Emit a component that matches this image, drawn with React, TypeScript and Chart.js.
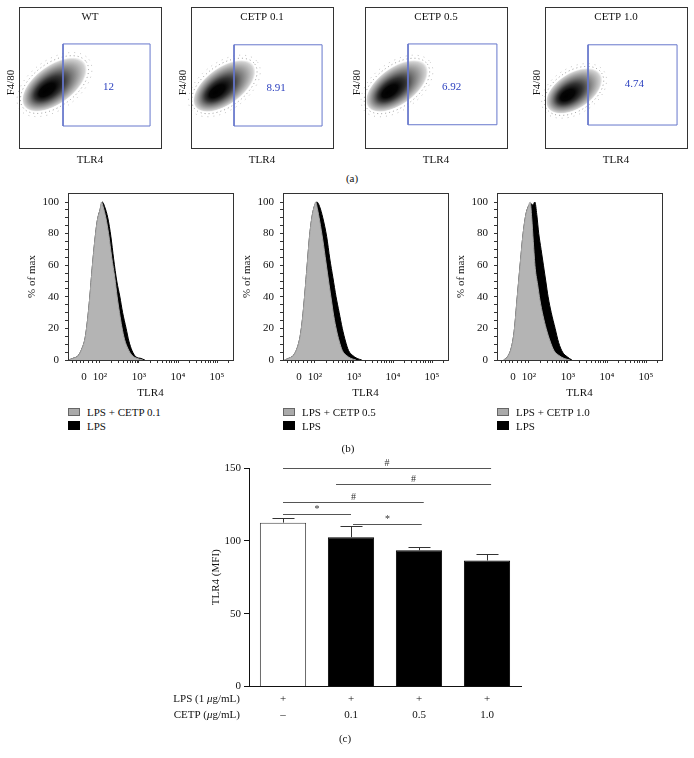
import React, { useEffect, useRef } from "react";
import { Chart, registerables } from "chart.js";

Chart.register(...registerables);

const SERIF = '"Liberation Serif", "Times New Roman", Times, serif';

// ---------------- (a) F4/80 vs TLR4 dot plots ----------------
const flowTitles = ["WT", "CETP 0.1", "CETP 0.5", "CETP 1.0"];
const gatePercents = ["12", "8.91", "6.92", "4.74"];
const gateXMin = [31, 30.3, 30.3, 30.3];
const gateXMax = [92.3, 92.3, 92.9, 93];
const gateYMin = [15.6, 15.6, 16.5, 16.3];
const gateYMax = [73.8, 73.2, 73.8, 73.2];
const percentX = [63, 60, 61, 63];
const percentY = [43, 42.5, 43.3, 45];
const blobX = [25, 23.5, 22.5, 20.5];
const blobY = [45, 44, 44, 40.5];
const blobMajor = [25, 24, 24, 21];
const blobMinor = [13, 12.5, 12.5, 12];
const blobTilt = [36, 36, 36, 33];

// ---------------- (b) TLR4 histograms ----------------
const histGrayLabels = ["LPS + CETP 0.1", "LPS + CETP 0.5", "LPS + CETP 1.0"];
const histBlackLabel = "LPS";
const histMajorTicks = [1.59, 2, 3, 4, 5];
const histMajorLabels = ["0", "10²", "10³", "10⁴", "10⁵"];
const histPctTicks = [0, 20, 40, 60, 80, 100];

const gray1U = [1.2, 1.3, 1.45, 1.55, 1.62, 1.68, 1.74, 1.8, 1.87, 1.93, 2.0, 2.04, 2.08, 2.15, 2.22, 2.3, 2.38, 2.44, 2.5, 2.56, 2.63, 2.72, 2.82, 2.95, 3.1];
const gray1P = [0, 1, 3, 8, 14, 25, 40, 58, 76, 88, 95, 100, 97, 90, 80, 65, 52, 40, 30, 21, 13, 7, 3, 1, 0];
const black1U = [1.2, 1.3, 1.45, 1.55, 1.62, 1.68, 1.74, 1.8, 1.87, 1.93, 2.0, 2.06, 2.12, 2.2, 2.28, 2.35, 2.43, 2.51, 2.58, 2.67, 2.74, 2.82, 2.92, 3.05, 3.15];
const black1P = [0, 1, 3, 8, 14, 25, 40, 58, 76, 88, 95, 100, 97, 90, 78, 64, 50, 40, 30, 20, 12, 6, 2, 1, 0];

const gray2U = [1.22, 1.32, 1.45, 1.55, 1.62, 1.68, 1.74, 1.8, 1.86, 1.92, 1.98, 2.02, 2.06, 2.12, 2.2, 2.28, 2.36, 2.42, 2.48, 2.55, 2.62, 2.7, 2.8, 2.92, 3.05];
const gray2P = [0, 1, 3, 8, 15, 26, 42, 60, 78, 90, 97, 100, 96, 88, 76, 62, 48, 38, 28, 19, 12, 6, 3, 1, 0];
const black2U = [1.22, 1.32, 1.45, 1.55, 1.62, 1.68, 1.74, 1.8, 1.86, 1.92, 1.98, 2.05, 2.12, 2.2, 2.3, 2.38, 2.46, 2.54, 2.62, 2.7, 2.78, 2.86, 2.96, 3.08, 3.2];
const black2P = [0, 1, 3, 8, 15, 26, 42, 60, 78, 90, 97, 100, 97, 90, 78, 64, 52, 40, 30, 20, 12, 6, 3, 1, 0];

const gray3U = [1.35, 1.45, 1.55, 1.62, 1.7, 1.78, 1.85, 1.92, 1.98, 2.03, 2.07, 2.11, 2.16, 2.22, 2.28, 2.36, 2.44, 2.54, 2.64, 2.76, 2.9, 3.05];
const gray3P = [0, 2, 8, 18, 40, 62, 80, 92, 97, 100, 90, 75, 58, 48, 38, 28, 20, 12, 6, 3, 1, 0];
const black3U = [1.35, 1.45, 1.55, 1.62, 1.7, 1.78, 1.85, 1.92, 1.98, 2.05, 2.1, 2.15, 2.2, 2.25, 2.31, 2.37, 2.43, 2.49, 2.57, 2.67, 2.76, 2.86, 2.98, 3.1];
const black3P = [0, 2, 8, 18, 40, 62, 80, 92, 97, 99, 98, 100, 92, 80, 70, 60, 50, 40, 30, 20, 11, 5, 2, 0];

const grayU = [gray1U, gray2U, gray3U];
const grayP = [gray1P, gray2P, gray3P];
const blackU = [black1U, black2U, black3U];
const blackP = [black1P, black2P, black3P];

// ---------------- (c) TLR4 MFI bar chart ----------------
const lpsRow = ["+", "+", "+", "+"];
const cetpRow = ["–", "0.1", "0.5", "1.0"];
const tlrMean = [112.5, 102.5, 93.5, 86.5];
const tlrSem = [3.1, 7.5, 2.1, 4.3];
const sigFrom = [0, 0.78, 0, 0, 1.03];
const sigTo = [3.06, 3.06, 2.07, 1, 2.04];
const sigLevel = [150, 138.7, 127, 118.4, 111.3];
const sigMark = ["#", "#", "#", "*", "*"];
const mfiTicks = [0, 50, 100, 150];

// ---------------- layout (page pixels) ----------------
const flowBoxLeft = [19, 191, 365, 545];
const histLeft = [68, 283, 497];

const font = (size: number, extra = "") => `${extra}${size}px ${SERIF}`;

function FlowPlot({ idx }: { idx: number }) {
  const ref = useRef<HTMLCanvasElement>(null);
  useEffect(() => {
    const decor = {
      id: "flowDecor",
      beforeDatasetsDraw(chart: any) {
        const { ctx, scales } = chart;
        const xs = scales.x;
        const ys = scales.y;
        const cx = xs.getPixelForValue(blobX[idx]);
        const cy = ys.getPixelForValue(blobY[idx]);
        const rx = Math.abs(xs.getPixelForValue(blobMajor[idx]) - xs.getPixelForValue(0));
        const ry = Math.abs(ys.getPixelForValue(blobMinor[idx]) - ys.getPixelForValue(0));
        const rot = (-blobTilt[idx] * Math.PI) / 180;
        ctx.save();
        // speckled fringe
        ctx.setLineDash([1, 3]);
        ctx.strokeStyle = "rgba(40,40,40,0.45)";
        ctx.lineWidth = 1;
        ctx.beginPath();
        ctx.ellipse(cx, cy, rx * 1.1, ry * 1.18, rot, 0, Math.PI * 2);
        ctx.stroke();
        ctx.setLineDash([1, 5]);
        ctx.strokeStyle = "rgba(60,60,60,0.3)";
        ctx.beginPath();
        ctx.ellipse(cx, cy, rx * 1.2, ry * 1.35, rot, 0, Math.PI * 2);
        ctx.stroke();
        ctx.setLineDash([]);
        // density
        ctx.translate(cx, cy);
        ctx.rotate(rot);
        ctx.scale(1, ry / rx);
        const g = ctx.createRadialGradient(-rx * 0.35, 0, 0, 0, 0, rx * 1.05);
        g.addColorStop(0, "#000");
        g.addColorStop(0.25, "#050505");
        g.addColorStop(0.45, "#333");
        g.addColorStop(0.65, "#777");
        g.addColorStop(0.82, "#aaa");
        g.addColorStop(0.95, "#d2d2d2");
        g.addColorStop(1, "rgba(235,235,235,0.5)");
        ctx.fillStyle = g;
        ctx.beginPath();
        ctx.arc(0, 0, rx * 1.05, 0, Math.PI * 2);
        ctx.fill();
        ctx.restore();
      },
      afterDraw(chart: any) {
        const { ctx, chartArea: a, scales } = chart;
        ctx.save();
        ctx.strokeStyle = "#333";
        ctx.lineWidth = 1;
        ctx.strokeRect(Math.round(a.left) + 0.5, Math.round(a.top) + 0.5, Math.round(a.right - a.left), Math.round(a.bottom - a.top));
        ctx.fillStyle = "#111";
        ctx.font = font(11);
        ctx.textAlign = "center";
        ctx.textBaseline = "middle";
        const mid = (a.left + a.right) / 2;
        ctx.fillText(flowTitles[idx], mid, a.top + 10);
        ctx.fillText("TLR4", mid, a.bottom + 12);
        ctx.save();
        ctx.translate(a.left - 8, (a.top + a.bottom) / 2 + 5);
        ctx.rotate(-Math.PI / 2);
        ctx.fillText("F4/80", 0, 0);
        ctx.restore();
        ctx.fillStyle = "#2a3fbf";
        ctx.fillText(gatePercents[idx], scales.x.getPixelForValue(percentX[idx]), scales.y.getPixelForValue(percentY[idx]));
        ctx.restore();
      },
    };
    const x0 = gateXMin[idx], x1 = gateXMax[idx], y0 = gateYMin[idx], y1 = gateYMax[idx];
    const chart = new Chart(ref.current as HTMLCanvasElement, {
      type: "scatter",
      data: {
        datasets: [
          {
            label: "gate",
            data: [
              { x: x0, y: y0 },
              { x: x1, y: y0 },
              { x: x1, y: y1 },
              { x: x0, y: y1 },
              { x: x0, y: y0 },
            ],
            showLine: true,
            borderColor: "#6677cc",
            borderWidth: 1,
            pointRadius: 0,
            tension: 0,
            fill: false,
          } as any,
        ],
      },
      options: {
        responsive: false,
        animation: false,
        layout: { padding: { left: 20, right: 4, top: 7, bottom: 22 } },
        scales: {
          x: { type: "linear", display: false, min: 0, max: 100 },
          y: { type: "linear", display: false, min: 0, max: 100 },
        },
        plugins: { legend: { display: false }, tooltip: { enabled: false } },
      },
      plugins: [decor],
    });
    return () => chart.destroy();
  }, [idx]);
  return (
    <canvas
      ref={ref}
      width={166}
      height={170}
      style={{ position: "absolute", left: flowBoxLeft[idx] - 20, top: 0, width: 166, height: 170 }}
    />
  );
}

function Histogram({ idx }: { idx: number }) {
  const ref = useRef<HTMLCanvasElement>(null);
  useEffect(() => {
    const frame = {
      id: "histFrame",
      afterDraw(chart: any) {
        const { ctx, chartArea: a } = chart;
        ctx.save();
        ctx.strokeStyle = "#333";
        ctx.lineWidth = 1;
        ctx.strokeRect(Math.round(a.left) + 0.5, Math.round(a.top) + 0.5, Math.round(a.right - a.left), Math.round(a.bottom - a.top));
        ctx.restore();
      },
    };
    const minorX: number[] = [1.3, 1.4, 1.5, 1.7, 1.8, 1.9];
    for (let d = 2; d <= 5; d++) {
      for (let k = 2; k <= 9; k++) {
        const v = d + Math.log10(k);
        if (v < 5.41) minorX.push(v);
      }
    }
    const xTicks = [...histMajorTicks, ...minorX].sort((p, q) => p - q);
    const yTicks: number[] = [];
    for (let v = 0; v <= 100; v += 5) yTicks.push(v);
    const chart = new Chart(ref.current as HTMLCanvasElement, {
      type: "scatter",
      data: {
        datasets: [
          {
            label: histGrayLabels[idx],
            data: grayU[idx].map((u, k) => ({ x: u, y: grayP[idx][k] })),
            showLine: true,
            fill: "origin",
            backgroundColor: "#b4b4b4",
            borderColor: "#a6a6a6",
            borderWidth: 1,
            pointRadius: 0,
            cubicInterpolationMode: "monotone",
          } as any,
          {
            label: histBlackLabel,
            data: blackU[idx].map((u, k) => ({ x: u, y: blackP[idx][k] })),
            showLine: true,
            fill: "origin",
            backgroundColor: "#000",
            borderColor: "#000",
            borderWidth: 1,
            pointRadius: 0,
            cubicInterpolationMode: "monotone",
          } as any,
        ],
      },
      options: {
        responsive: false,
        animation: false,
        layout: { padding: { left: 26, right: 12, top: 13, bottom: 0 } },
        scales: {
          x: {
            type: "linear",
            min: 1.18,
            max: 5.41,
            grid: { display: true, drawOnChartArea: false, drawTicks: true, tickLength: 3, color: "#333" },
            border: { display: true, color: "#333" },
            afterBuildTicks: (s: any) => {
              s.ticks = xTicks.map((v) => ({ value: v }));
            },
            afterFit: (s: any) => {
              s.height = 40;
            },
            ticks: {
              autoSkip: false,
              maxRotation: 0,
              padding: 8,
              color: "#111",
              font: { family: SERIF, size: 11 },
              callback: (v: any) => {
                const k = histMajorTicks.indexOf(v);
                return k >= 0 ? histMajorLabels[k] : "";
              },
            },
            title: { display: true, text: "TLR4", color: "#111", font: { family: SERIF, size: 11 }, padding: { top: 0, bottom: 0 } },
          },
          y: {
            type: "linear",
            min: 0,
            max: 105.7,
            grid: { display: true, drawOnChartArea: false, drawTicks: true, tickLength: 3, color: "#333" },
            border: { display: true, color: "#333" },
            afterBuildTicks: (s: any) => {
              s.ticks = yTicks.map((v) => ({ value: v }));
            },
            afterFit: (s: any) => {
              s.width = 42;
            },
            ticks: {
              autoSkip: false,
              padding: 6,
              color: "#111",
              font: { family: SERIF, size: 11 },
              callback: (v: any) => (histPctTicks.indexOf(v) >= 0 ? String(v) : ""),
            },
            title: { display: true, text: "% of max", color: "#111", font: { family: SERIF, size: 11 }, padding: { top: 0, bottom: 0 } },
          },
        },
        plugins: { legend: { display: false }, tooltip: { enabled: false } },
      },
      plugins: [frame],
    });
    return () => chart.destroy();
  }, [idx]);
  const L = histLeft[idx];
  return (
    <>
      <canvas
        ref={ref}
        width={245}
        height={220}
        style={{ position: "absolute", left: L - 68, top: 180, width: 245, height: 220 }}
      />
      <div style={{ position: "absolute", left: L, top: 408, width: 12, height: 8, background: "#aaa", border: "1px solid #666", boxSizing: "border-box" }} />
      <Label x={L + 19} y={412} text={histGrayLabels[idx]} align="left" />
      <div style={{ position: "absolute", left: L, top: 421, width: 12, height: 9, background: "#000" }} />
      <Label x={L + 19} y={425.5} text={histBlackLabel} align="left" />
    </>
  );
}

function Label({ x, y, text, align = "center" }: { x: number; y: number; text: string; align?: string }) {
  return (
    <div
      style={{
        position: "absolute",
        left: x,
        top: y,
        transform: align === "center" ? "translate(-50%, -50%)" : "translate(0, -50%)",
        fontFamily: SERIF,
        fontSize: 11,
        lineHeight: "13px",
        color: "#111",
        whiteSpace: "nowrap",
      }}
    >
      {text}
    </div>
  );
}

function BarPanel() {
  const ref = useRef<HTMLCanvasElement>(null);
  useEffect(() => {
    const decor = {
      id: "barDecor",
      afterDatasetsDraw(chart: any) {
        const { ctx, scales } = chart;
        const xs = scales.x;
        const ys = scales.y;
        const meta = chart.getDatasetMeta(0);
        ctx.save();
        ctx.lineWidth = 1;
        // error bars
        meta.data.forEach((bar: any, i: number) => {
          const xc = Math.round(bar.x) + 0.5;
          const yTop = Math.round(ys.getPixelForValue(tlrMean[i] + tlrSem[i])) + 0.5;
          const yBase = ys.getPixelForValue(tlrMean[i]);
          ctx.strokeStyle = "#333";
          ctx.beginPath();
          ctx.moveTo(xc, yBase);
          ctx.lineTo(xc, yTop);
          ctx.moveTo(xc - 11, yTop);
          ctx.lineTo(xc + 11, yTop);
          ctx.stroke();
        });
        // significance lines
        ctx.strokeStyle = "#555";
        ctx.fillStyle = "#333";
        ctx.font = font(10);
        ctx.textAlign = "center";
        ctx.textBaseline = "alphabetic";
        sigLevel.forEach((lv, k) => {
          const y = Math.round(ys.getPixelForValue(lv)) + 0.5;
          const xa = xs.getPixelForValue(sigFrom[k]);
          const xb = xs.getPixelForValue(sigTo[k]);
          ctx.beginPath();
          ctx.moveTo(xa, y);
          ctx.lineTo(xb, y);
          ctx.stroke();
          ctx.fillText(sigMark[k], (xa + xb) / 2, y - 2.5);
        });
        ctx.restore();
      },
      afterDraw(chart: any) {
        const { ctx, scales } = chart;
        const xs = scales.x;
        const rows: [string, boolean][][] = [
          [["LPS (1 ", false], ["μ", true], ["g/mL)", false]],
          [["CETP (", false], ["μ", true], ["g/mL)", false]],
        ];
        ctx.save();
        ctx.fillStyle = "#111";
        ctx.textBaseline = "middle";
        ctx.textAlign = "left";
        rows.forEach((parts, r) => {
          const y = xs.top + 4 + 8.25 + r * 16.5;
          let total = 0;
          const widths = parts.map(([t, it]) => {
            ctx.font = font(11, it ? "italic " : "");
            const w = ctx.measureText(t).width;
            total += w;
            return w;
          });
          let x = xs.left - 9 - total;
          parts.forEach(([t, it], j) => {
            ctx.font = font(11, it ? "italic " : "");
            ctx.fillText(t, x, y);
            x += widths[j];
          });
        });
        ctx.restore();
      },
    };
    const chart = new Chart(ref.current as HTMLCanvasElement, {
      type: "bar",
      data: {
        labels: lpsRow.map((l, i) => [l, cetpRow[i]]),
        datasets: [
          {
            label: "TLR4 (MFI)",
            data: tlrMean,
            backgroundColor: ["#fff", "#000", "#000", "#000"],
            borderColor: ["#444", "#000", "#000", "#000"],
            borderWidth: 1,
            barPercentage: 0.68,
            categoryPercentage: 1,
          },
        ],
      },
      options: {
        responsive: false,
        animation: false,
        layout: { padding: { left: 57, right: 29, top: 28, bottom: 0 } },
        scales: {
          x: {
            grid: { display: false, drawTicks: false },
            border: { display: true, color: "#111" },
            afterFit: (s: any) => {
              s.height = 63.5;
            },
            ticks: {
              padding: 4,
              color: "#111",
              font: { family: SERIF, size: 11, lineHeight: 1.5 },
              maxRotation: 0,
              autoSkip: false,
            },
          },
          y: {
            min: 0,
            max: 150,
            grid: { display: true, drawOnChartArea: false, drawTicks: true, tickLength: 5, color: "#111" },
            border: { display: true, color: "#111" },
            afterBuildTicks: (s: any) => {
              s.ticks = mfiTicks.map((v) => ({ value: v }));
            },
            afterFit: (s: any) => {
              s.width = 42;
            },
            ticks: { padding: 3, color: "#111", font: { family: SERIF, size: 11 } },
            title: { display: true, text: "TLR4 (MFI)", color: "#111", font: { family: SERIF, size: 11 }, padding: { top: 3, bottom: 0 } },
          },
        },
        plugins: { legend: { display: false }, tooltip: { enabled: false } },
      },
      plugins: [decor],
    });
    return () => chart.destroy();
  }, []);
  return (
    <canvas ref={ref} width={400} height={310} style={{ position: "absolute", left: 150, top: 440, width: 400, height: 310 }} />
  );
}

export default function App() {
  return (
    <div style={{ position: "absolute", left: 0, top: 0, width: 694, height: 758, background: "#fff", overflow: "hidden" }}>
      {flowTitles.map((_, i) => (
        <FlowPlot key={i} idx={i} />
      ))}
      <Label x={352} y={178} text="(a)" />
      {histGrayLabels.map((_, i) => (
        <Histogram key={i} idx={i} />
      ))}
      <Label x={348} y={448} text="(b)" />
      <BarPanel />
      <Label x={345} y={738} text="(c)" />
    </div>
  );
}
